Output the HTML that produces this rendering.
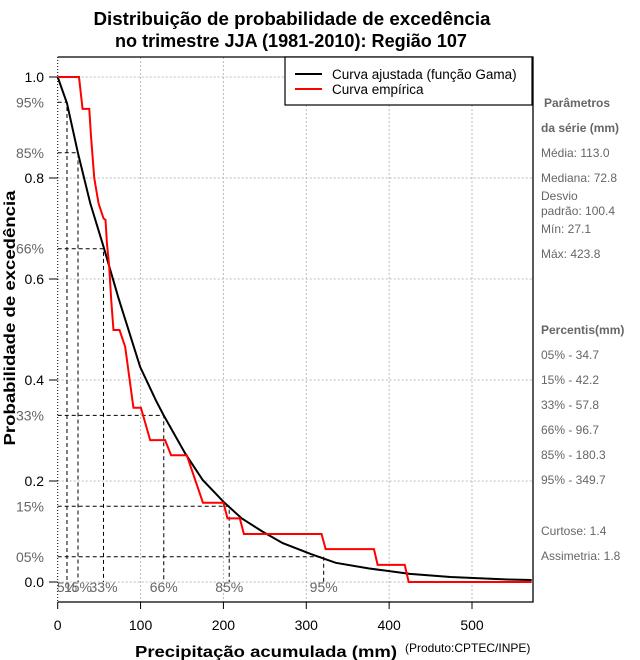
<!DOCTYPE html>
<html><head><meta charset="utf-8"><style>
body{margin:0;background:#fff}
svg{display:block;font-family:"Liberation Sans",Arial,sans-serif}
</style></head><body>
<svg id="chart" width="640" height="660" viewBox="0 0 640 660">
<g font-weight="bold" font-size="18" text-anchor="middle" fill="#000">
<text x="292" y="25" textLength="397" lengthAdjust="spacingAndGlyphs">Distribuição de probabilidade de excedência</text>
<text x="291" y="47" textLength="352" lengthAdjust="spacingAndGlyphs">no trimestre JJA (1981-2010): Região 107</text>
</g>
<g id="grid"></g>
<g id="pct"></g>
<g id="series"></g>
<g id="axes"></g>
<g>
<rect x="285" y="57" width="247" height="48" fill="#fff" stroke="#000" stroke-width="1.2"/>
<line x1="295" y1="74" x2="322" y2="74" stroke="#000" stroke-width="2"/>
<text x="332" y="79" font-size="13.5">Curva ajustada (função Gama)</text>
<line x1="295" y1="89" x2="322" y2="89" stroke="#f00" stroke-width="2"/>
<text x="332" y="94" font-size="13.5">Curva empírica</text>
</g>
<g font-size="12" fill="#666">
<text x="544" y="107" font-weight="bold">Parâmetros</text>
<text x="541" y="132" font-weight="bold">da série (mm)</text>
<text x="541" y="157">Média: 113.0</text>
<text x="541" y="182">Mediana: 72.8</text>
<text x="541" y="200">Desvio</text>
<text x="541" y="215">padrão: 100.4</text>
<text x="541" y="233">Mín: 27.1</text>
<text x="541" y="258">Máx: 423.8</text>
<text x="541" y="334" font-weight="bold">Percentis(mm)</text>
<text x="541" y="359">05% - 34.7</text>
<text x="541" y="384">15% - 42.2</text>
<text x="541" y="409">33% - 57.8</text>
<text x="541" y="434">66% - 96.7</text>
<text x="541" y="459">85% - 180.3</text>
<text x="541" y="484">95% - 349.7</text>
<text x="541" y="535">Curtose: 1.4</text>
<text x="541" y="560">Assimetria: 1.8</text>
</g>
<text x="15" y="318" font-size="16" font-weight="bold" text-anchor="middle" textLength="255" lengthAdjust="spacingAndGlyphs" transform="rotate(-90 15 318)">Probabilidade de excedência</text>
<text x="266" y="657" font-size="16" font-weight="bold" text-anchor="middle" textLength="262" lengthAdjust="spacingAndGlyphs">Precipitação acumulada (mm)</text>
<text x="405" y="652" font-size="12">(Produto:CPTEC/INPE)</text>
</svg>
<script>
const xTicks=[0,100,200,300,400,500];
const yTicks=[0,0.2,0.4,0.6,0.8,1.0];
const yTickLabels=["0.0","0.2","0.4","0.6","0.8","1.0"];
const pctProb=[0.95,0.85,0.66,0.33,0.15,0.05];
const pctYLabels=["95%","85%","66%","33%","15%","05%"];
const pctX=[11.2,24.5,55.3,128,207,321];
const pctXLabels=["5%","15%","33%","66%","85%","95%"];
const gammaX=[0,11.2,24.5,39.3,55.3,73.4,99.5,118.4,127.6,153.7,175,200,222,247,271.5,306,335.6,375,425,474,543,572];
const gammaP=[1.0,0.948,0.849,0.75,0.664,0.562,0.426,0.36,0.331,0.255,0.202,0.159,0.126,0.10,0.077,0.055,0.038,0.027,0.016,0.010,0.005,0.004];
const empX=[0,25.7,30,38.1,40.1,44.1,49.3,55.3,57.7,59.4,62.2,64.6,67.3,74.6,81.4,91.4,100.4,111.6,129.6,136.9,155.8,175.3,200,204.9,219.8,224.7,318.4,323.4,381.7,386.1,418.8,423.6,572];
const empP=[1.0,1.0,0.937,0.937,0.885,0.80,0.75,0.72,0.717,0.671,0.624,0.558,0.499,0.499,0.466,0.345,0.345,0.281,0.281,0.251,0.251,0.157,0.157,0.126,0.126,0.095,0.095,0.065,0.065,0.034,0.034,0,0];

const NS="http://www.w3.org/2000/svg";
const X=v=>57.7+v*0.8286;
const Y=p=>582-p*505;
const L=57.7,R=533,T=57,B=602;
function mk(parent,tag,attrs){const e=document.createElementNS(NS,tag);for(const k in attrs)e.setAttribute(k,attrs[k]);document.getElementById(parent).appendChild(e);return e;}

yTicks.forEach(t=>{const e=mk('grid','line',{x1:L,x2:R,y1:Y(t),y2:Y(t),stroke:'#bbb','stroke-dasharray':'2,2'});

});
xTicks.forEach(t=>{const e=mk('grid','line',{x1:X(t),x2:X(t),y1:T,y2:B,stroke:t===0?'#000':'#bbb','stroke-dasharray':t===0?'1,2':'2,2'});

});

pctProb.forEach((p,i)=>{
 const h=mk('pct','polyline',{points:`${L},${Y(p)} ${X(pctX[i])},${Y(p)} ${X(pctX[i])},${Y(0)}`,fill:'none',stroke:'#000','stroke-dasharray':'4,3','stroke-width':1});
 
 
 const t=mk('pct','text',{x:44,y:Y(p)+5,'text-anchor':'end','font-size':14,fill:'#666'});t.textContent=pctYLabels[i];
 
 
 const b=mk('pct','text',{x:X(pctX[i]),y:592,'text-anchor':'middle','font-size':14,fill:'#666'});b.textContent=pctXLabels[i];
 
 
});

const g=mk('series','polyline',{points:gammaX.map((x,i)=>X(x)+','+Y(gammaP[i])).join(' '),fill:'none',stroke:'#000','stroke-width':2});


const em=mk('series','polyline',{points:empX.map((x,i)=>X(x)+','+Y(empP[i])).join(' '),fill:'none',stroke:'#f00','stroke-width':2});



const box=mk('axes','polyline',{points:`${L},${T} ${R},${T} ${R},${B} ${L},${B}`,fill:'none',stroke:'#000','stroke-width':1.3});


xTicks.forEach(t=>{const l=mk('axes','line',{x1:X(t),x2:X(t),y1:B,y2:B+7,stroke:'#000'});


const tx=mk('axes','text',{x:X(t),y:630,'text-anchor':'middle','font-size':14});tx.textContent=t;

});
yTicks.forEach((t,i)=>{const l=mk('axes','line',{x1:49,x2:L,y1:Y(t),y2:Y(t),stroke:'#000'});


const tx=mk('axes','text',{x:44,y:Y(t)+5,'text-anchor':'end','font-size':14});tx.textContent=yTickLabels[i];

});
</script>
</body></html>
